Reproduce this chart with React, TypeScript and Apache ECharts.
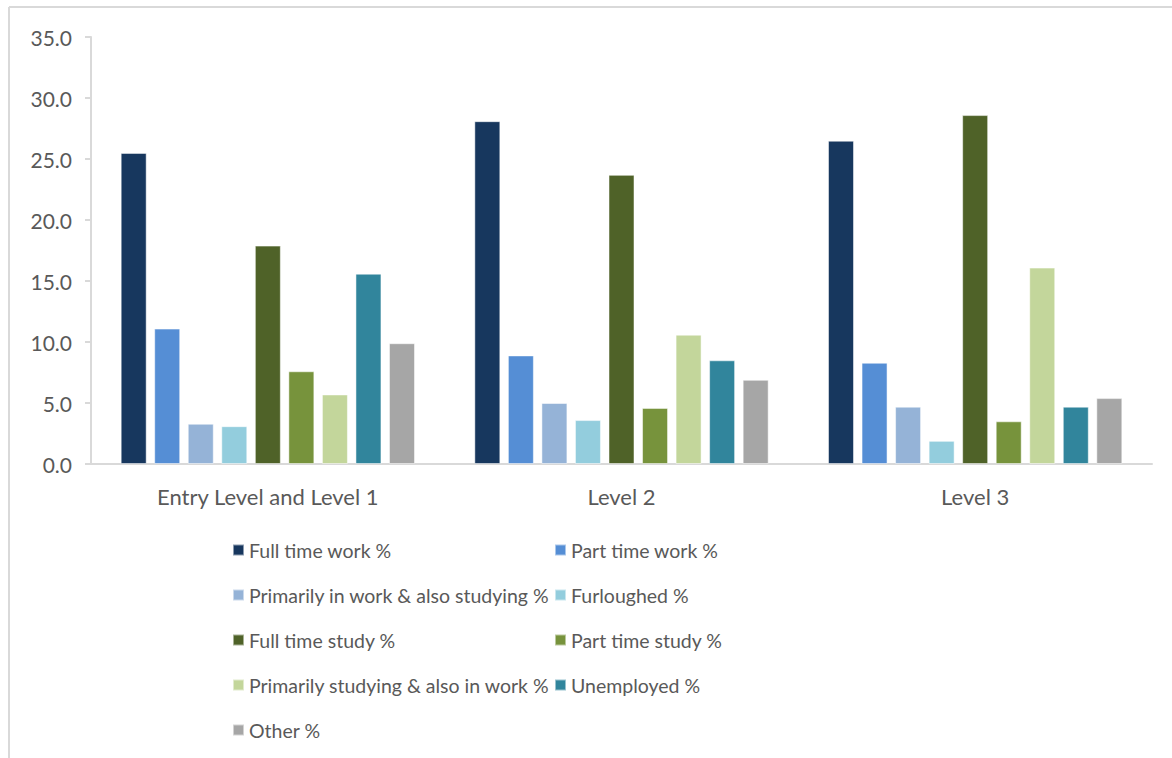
import React, { useEffect, useRef } from "react";
import * as echarts from "echarts";

const categories = ["Entry Level and Level 1", "Level 2", "Level 3"];
const seriesNames = [
  "Full time work %",
  "Part time work %",
  "Primarily in work & also studying %",
  "Furloughed %",
  "Full time study %",
  "Part time study %",
  "Primarily studying & also in work %",
  "Unemployed %",
  "Other %",
];
const fullTimeWork = [25.5, 28.1, 26.5];
const partTimeWork = [11.1, 8.9, 8.3];
const primarilyWork = [3.3, 5.0, 4.7];
const furloughed = [3.1, 3.6, 1.9];
const fullTimeStudy = [17.9, 23.7, 28.6];
const partTimeStudy = [7.6, 4.6, 3.5];
const primarilyStudying = [5.7, 10.6, 16.1];
const unemployed = [15.6, 8.5, 4.7];
const other = [9.9, 6.9, 5.4];
const yTicks = { min: 0, max: 35, interval: 5 };

const seriesValues = [
  fullTimeWork,
  partTimeWork,
  primarilyWork,
  furloughed,
  fullTimeStudy,
  partTimeStudy,
  primarilyStudying,
  unemployed,
  other,
];
const colors = [
  "#17375E",
  "#558ED5",
  "#95B3D7",
  "#93CDDD",
  "#4F6228",
  "#77933C",
  "#C3D69B",
  "#31859C",
  "#A6A6A6",
];

const FONT = "Lato, 'Liberation Sans', sans-serif";
const TEXT = "#595959";
const LINE = "#D9D9D9";

export default function App() {
  const ref = useRef<HTMLDivElement>(null);
  useEffect(() => {
    if (!ref.current) return;
    const chart = echarts.init(ref.current, undefined, { renderer: "svg" });
    const legendText = { color: TEXT, fontSize: 19.5, fontFamily: FONT, lineHeight: 20 };
    chart.setOption({
      animation: false,
      backgroundColor: "#FFFFFF",
      color: colors,
      textStyle: { fontFamily: FONT },
      grid: { left: 91, right: 20, top: 37, bottom: 294, containLabel: false },
      legend: [
        {
          data: [seriesNames[0], seriesNames[2], seriesNames[4], seriesNames[6], seriesNames[8]],
          orient: "vertical",
          left: 232,
          top: 540,
          padding: 0,
          itemWidth: 11,
          itemHeight: 11,
          itemGap: 25,
          icon: "rect",
          textStyle: legendText,
          selectedMode: false,
        },
        {
          data: [seriesNames[1], seriesNames[3], seriesNames[5], seriesNames[7]],
          orient: "vertical",
          left: 554,
          top: 540,
          padding: 0,
          itemWidth: 11,
          itemHeight: 11,
          itemGap: 25,
          icon: "rect",
          textStyle: legendText,
          selectedMode: false,
        },
      ],
      xAxis: {
        type: "category",
        data: categories,
        axisLine: { show: true, lineStyle: { color: LINE, width: 2 } },
        axisTick: { show: false },
        axisLabel: { color: TEXT, fontSize: 22, fontFamily: FONT, margin: 21 },
      },
      yAxis: {
        type: "value",
        min: yTicks.min,
        max: yTicks.max,
        interval: yTicks.interval,
        axisLine: { show: true, lineStyle: { color: LINE, width: 2 } },
        axisTick: { show: true, length: 6, lineStyle: { color: LINE, width: 2 } },
        splitLine: { show: false },
        axisLabel: {
          color: TEXT,
          fontSize: 21,
          fontFamily: FONT,
          margin: 19,
          formatter: (v: number) => v.toFixed(1),
        },
      },
      graphic: [
        { type: "line", shape: { x1: 9, y1: 7, x2: 1172, y2: 7 }, style: { stroke: LINE, lineWidth: 2 } },
        { type: "line", shape: { x1: 9, y1: 7, x2: 9, y2: 758 }, style: { stroke: LINE, lineWidth: 2 } },
      ],
      series: seriesNames.map((name, i) => ({
        name,
        type: "bar",
        data: seriesValues[i],
        barWidth: 26,
        barGap: "29%",
        itemStyle: { color: colors[i], borderColor: "rgba(255,255,255,0.5)", borderWidth: 1 },
      })),
    });
    return () => chart.dispose();
  }, []);
  return (
    <div
      ref={ref}
      style={{ width: 1172, height: 758, position: "absolute", left: 0, top: 0 }}
    />
  );
}
